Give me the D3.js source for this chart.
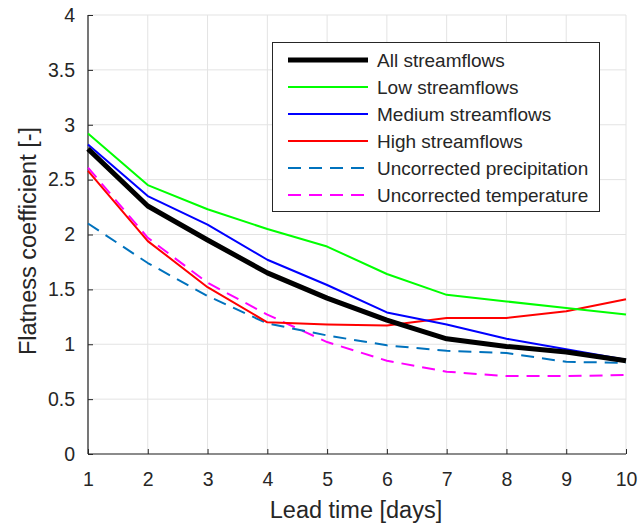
<!DOCTYPE html>
<html lang="en">
<head>
<meta charset="UTF-8">
<title>Flatness coefficient</title>
<script src="https://d3js.org/d3.v7.min.js"></script>
<style>
  body { margin: 0; background: #fff; }
  text { font-family: "Liberation Sans", Arial, sans-serif; fill: #262626; }
</style>
</head>
<body>
<svg width="640" height="530"></svg>
<script>
// lead times and series
const days = [1, 2, 3, 4, 5, 6, 7, 8, 9, 10]
const allFlows    = [2.78, 2.26, 1.95, 1.65, 1.42, 1.22, 1.05, 0.98, 0.93, 0.85]
const lowFlows    = [2.92, 2.45, 2.23, 2.05, 1.89, 1.64, 1.45, 1.39, 1.33, 1.27]
const mediumFlows = [2.82, 2.35, 2.09, 1.77, 1.54, 1.29, 1.18, 1.05, 0.955, 0.86]
const highFlows   = [2.58, 1.94, 1.52, 1.20, 1.18, 1.17, 1.24, 1.24, 1.30, 1.41]
const uncorrPrecip = [2.10, 1.74, 1.44, 1.19, 1.08, 0.99, 0.94, 0.92, 0.84, 0.83]
const uncorrTemp   = [2.61, 1.97, 1.56, 1.27, 1.02, 0.85, 0.75, 0.71, 0.71, 0.72]
const yTicks = [0, 0.5, 1, 1.5, 2, 2.5, 3, 3.5, 4]

const series = [
  {name: "All streamflows", values: allFlows, color: "#000000", width: 5, dash: null},
  {name: "Low streamflows", values: lowFlows, color: "#00ff00", width: 2, dash: null},
  {name: "Medium streamflows", values: mediumFlows, color: "#0000ff", width: 2, dash: null},
  {name: "High streamflows", values: highFlows, color: "#ff0000", width: 2, dash: null},
  {name: "Uncorrected precipitation", values: uncorrPrecip, color: "#0072bd", width: 2, dash: "13,8"},
  {name: "Uncorrected temperature", values: uncorrTemp, color: "#ff00ff", width: 2, dash: "13,8"}
]

const svg = d3.select("svg")
const x = d3.scaleLinear().domain([1, 10]).range([88, 626])
const y = d3.scaleLinear().domain([0, 4]).range([454, 15])

// grid
const grid = svg.append("g")
grid.selectAll(".gx").data(days).enter().append("line")
  .attr("x1", d => x(d)).attr("x2", d => x(d))
  .attr("y1", y(0)).attr("y2", y(4))
  .attr("stroke", "#e3e3e3").attr("stroke-width", 1)
grid.selectAll(".gy").data(yTicks).enter().append("line")
  .attr("x1", x(1)).attr("x2", x(10))
  .attr("y1", d => y(d)).attr("y2", d => y(d))
  .attr("stroke", "#e3e3e3").attr("stroke-width", 1)

// axes
const xAxis = svg.append("g").attr("transform", `translate(0,${y(0)})`)
  .call(d3.axisBottom(x).tickValues(days).tickSize(-5).tickPadding(18).tickFormat(d3.format("d")))
const yAxis = svg.append("g").attr("transform", `translate(${x(1)},0)`)
  .call(d3.axisLeft(y).tickValues(yTicks).tickSize(-5).tickPadding(13).tickFormat(d => d))
for (const ax of [xAxis, yAxis]) {
  ax.select(".domain").attr("stroke", "#262626").attr("stroke-width", 1.2)
  ax.selectAll(".tick line").attr("stroke", "#262626")
  ax.selectAll("text").style("font-size", "19.5px").attr("fill", "#262626")
    .style("font-family", "'Liberation Sans', Arial, sans-serif")
}
xAxis.select(".domain").attr("d", `M${x(1)},0H${x(10)}`)
yAxis.select(".domain").attr("d", `M0,${y(0)}V${y(4)}`)

// lines
const line = d3.line().x((d, i) => x(days[i])).y(d => y(d))
svg.append("g").selectAll("path").data(series.slice().reverse()).enter().append("path")
  .attr("d", d => line(d.values))
  .attr("fill", "none")
  .attr("stroke", d => d.color)
  .attr("stroke-width", d => d.width)
  .attr("stroke-dasharray", d => d.dash)
  .attr("stroke-linejoin", "round")

// axis labels
svg.append("text").attr("x", 356).attr("y", 518).attr("text-anchor", "middle")
  .style("font-size", "23.5px").text("Lead time [days]")
svg.append("text").attr("transform", "translate(36,241) rotate(-90)").attr("text-anchor", "middle")
  .style("font-size", "23.5px").text("Flatness coefficient [-]")

// legend
const lg = svg.append("g")
lg.append("rect").attr("x", 272.5).attr("y", 42.5).attr("width", 327).attr("height", 169)
  .attr("fill", "#fff").attr("stroke", "#262626").attr("stroke-width", 1)
const rows = lg.selectAll(".row").data(series).enter().append("g")
  .attr("transform", (d, i) => `translate(0,${60 + i * 27})`)
rows.append("line").attr("x1", 288).attr("x2", 368).attr("y1", 0).attr("y2", 0)
  .attr("stroke", d => d.color).attr("stroke-width", d => d.width)
  .attr("stroke-dasharray", d => d.dash)
rows.append("text").attr("x", 377).attr("y", 7).style("font-size", "19px").text(d => d.name)
</script>
</body>
</html>
